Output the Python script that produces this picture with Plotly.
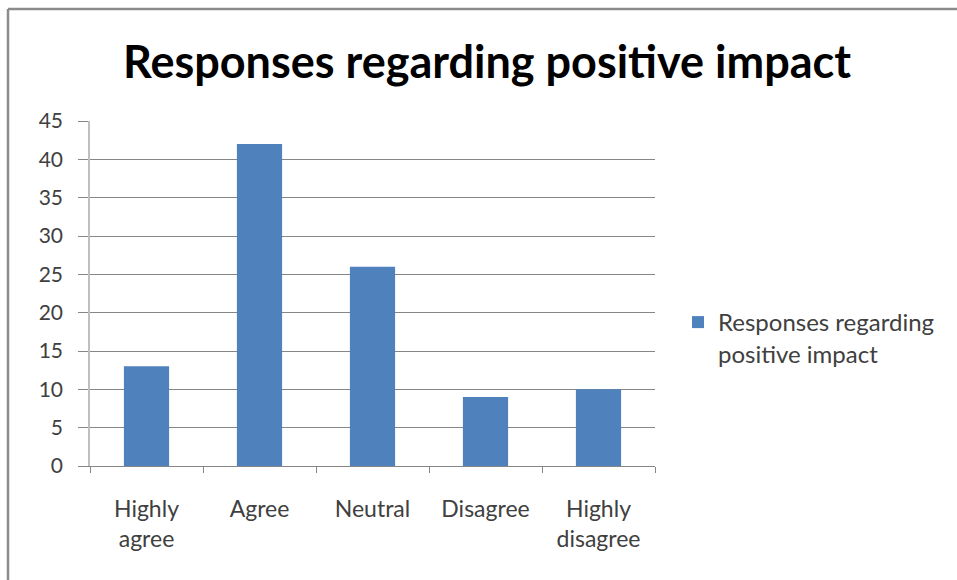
import plotly.graph_objects as go

categories = ["Highly<br>agree", "Agree", "Neutral", "Disagree", "Highly<br>disagree"]
values = [13, 42, 26, 9, 10]
series_name = "Responses regarding<br>positive impact"
title_text = "Responses regarding positive impact"
y_ticks = [0, 5, 10, 15, 20, 25, 30, 35, 40, 45]

W, H = 957, 580
L, R, T, B = 90, 302, 121, 114
pw = W - L - R
ph = H - T - B

def px_x(p):
    return (p - L) / pw

def px_y(p):
    return (H - B - p) / ph

fig = go.Figure()
fig.add_trace(go.Bar(
    x=categories, y=values, name=series_name,
    marker=dict(color="#4F81BD", line=dict(width=0)),
    showlegend=True,
))

fig.update_layout(
    width=W, height=H,
    margin=dict(l=L, r=R, t=T, b=B, pad=0),
    paper_bgcolor="white", plot_bgcolor="white",
    bargap=0.6,
    font=dict(family="Lato, Carlito, Calibri, sans-serif", color="#404040"),
    title=dict(text="<b>" + title_text + "</b>", x=px_x(487), xref="paper",
               xanchor="center", y=1 - 62 / H, yanchor="middle",
               font=dict(size=45, color="black", family="Lato, sans-serif")),
    showlegend=True,
    legend=dict(x=px_x(678), xanchor="left", y=px_y(300), yanchor="top",
                font=dict(size=24, color="#404040"), valign="top",
                bgcolor="rgba(0,0,0,0)", itemwidth=30, tracegroupgap=0),
    xaxis=dict(
        type="category", showgrid=False, showline=True, linecolor="#868686",
        linewidth=1, ticks="outside", ticklen=6, tickcolor="#868686",
        tickson="boundaries", tickfont=dict(size=23, color="#404040"),
        ticklabelstandoff=22, range=[-0.5, 4.5], fixedrange=True,
    ),
    yaxis=dict(
        range=[0, 45], tickvals=y_ticks, showgrid=True, gridcolor="#868686",
        gridwidth=1, showline=True, linecolor="#BFBFBF", linewidth=1.5,
        ticks="outside", ticklen=10, tickcolor="#868686",
        tickfont=dict(size=21, color="#404040"), ticklabelstandoff=11,
        zeroline=False, fixedrange=True,
    ),
    shapes=[
        dict(type="line", xref="paper", yref="paper", x0=px_x(8), x1=px_x(W + 5),
             y0=px_y(9), y1=px_y(9), line=dict(color="#8C8C8C", width=2.5)),
        dict(type="line", xref="paper", yref="paper", x0=px_x(8), x1=px_x(8),
             y0=px_y(9), y1=px_y(H + 5), line=dict(color="#8C8C8C", width=2.5)),
    ],
)

fig.write_html("out.html")
